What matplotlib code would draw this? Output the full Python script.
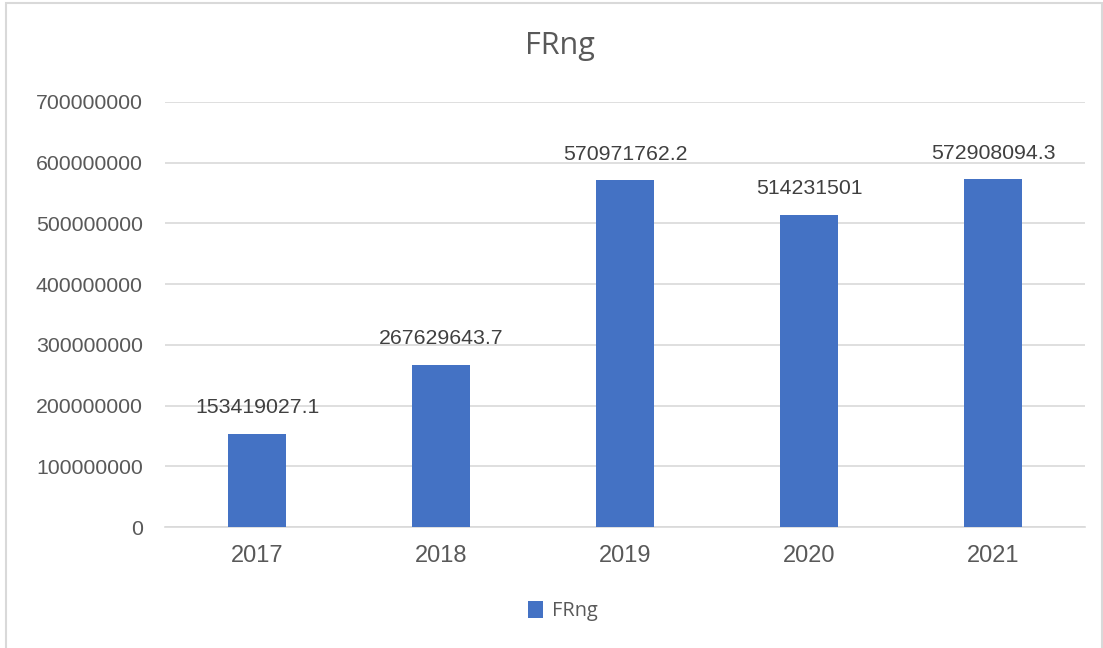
import matplotlib.pyplot as plt
import matplotlib.patches as patches

years = ['2017', '2018', '2019', '2020', '2021']
values = [153419027.1, 267629643.7, 570971762.2, 514231501, 572908094.3]
labels = ['153419027.1', '267629643.7', '570971762.2', '514231501', '572908094.3']
series_name = 'FRng'

plt.rcParams['font.family'] = ['Liberation Sans', 'DejaVu Sans']

fig = plt.figure(figsize=(11.03, 6.48), dpi=100)
ax = fig.add_axes([0.1496, 0.1867, 0.8341, 0.6559])

# 바깥 테두리
fig.patches.append(patches.Rectangle((0.005, -0.01), 0.994, 1.005, transform=fig.transFigure,
                                     fill=False, edgecolor='#d9d9d9', linewidth=1.5))

x = range(len(years))
bars = ax.bar(x, values, width=0.315, color='#4472c4', label=series_name, zorder=3)

for i, (v, t) in enumerate(zip(values, labels)):
    ax.text(i, v + 27000000, t, ha='center', va='bottom', fontsize=15.3, color='#404040')

ax.set_xlim(-0.5, len(years) - 0.5)
ax.set_ylim(0, 700000000)
ax.set_yticks(range(0, 700000001, 100000000))
ax.set_yticklabels([str(v) for v in range(0, 700000001, 100000000)])
ax.set_xticks(list(x))
ax.set_xticklabels(years)
ax.grid(axis='y', color='#d9d9d9', linewidth=1.2, zorder=0)
for s in ['top', 'right', 'left']:
    ax.spines[s].set_visible(False)
ax.spines['bottom'].set_color('#d9d9d9')
ax.spines['bottom'].set_linewidth(1.2)
ax.tick_params(length=0, labelcolor='#595959')
ax.tick_params(axis='x', pad=13, labelsize=17)
ax.tick_params(axis='y', pad=16, labelsize=15.3)

fig.text(0.508, 0.929, 'FRng', ha='center', va='center', fontsize=22, color='#595959',
         family=['Open Sans', 'DejaVu Sans'])

fig.legend(loc='center', bbox_to_anchor=(0.51, 0.057), frameon=False,
           prop={'family': ['Open Sans', 'DejaVu Sans'], 'size': 14.3},
           labelcolor='#595959', handlelength=0.75, handleheight=0.9, handletextpad=0.45)

fig.savefig('out.png', dpi=100)
